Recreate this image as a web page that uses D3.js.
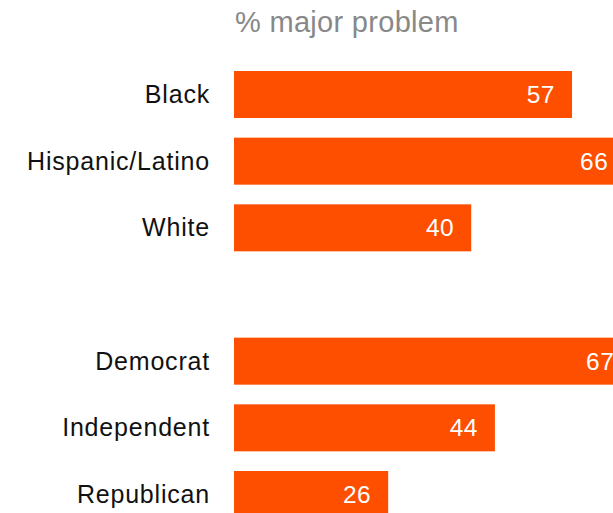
<!DOCTYPE html>
<html>
<head>
<meta charset="utf-8">
<script src="https://cdn.jsdelivr.net/npm/d3@7"></script>
<style>
  html, body { margin: 0; padding: 0; background: #fff; overflow: hidden; }
  svg { display: block; }
  text { font-family: "Liberation Sans", Arial, Helvetica, sans-serif; }
</style>
</head>
<body>
<svg id="chart" width="613" height="513"></svg>
<script>
const categories = ["Black", "Hispanic/Latino", "White", "", "Democrat", "Independent", "Republican"];
const values = [57, 66, 40, null, 67, 44, 26];
const titleText = "% major problem";

const data = categories.map((c, i) => ({ cat: c, key: c || "gap" + i, value: values[i] }));

const svg = d3.select("#chart");

const x = d3.scaleLinear().domain([0, 100]).range([234, 827]);
const y = d3.scaleBand()
  .domain(data.map(d => d.key))
  .range([71, 518])
  .paddingInner(0.295)
  .paddingOuter(0);

svg.append("text")
  .attr("x", 235)
  .attr("y", 32)
  .attr("fill", "#888888")
  .attr("font-size", 29)
  .attr("letter-spacing", 0.3)
  .text(titleText);

const rows = data.filter(d => d.value != null);

svg.selectAll("rect.bar")
  .data(rows)
  .join("rect")
  .attr("class", "bar")
  .attr("x", x(0))
  .attr("y", d => y(d.key))
  .attr("width", d => x(d.value) - x(0))
  .attr("height", y.bandwidth())
  .attr("fill", "#fe4e00");

svg.selectAll("text.val")
  .data(rows)
  .join("text")
  .attr("class", "val")
  .attr("x", d => x(d.value) - 17)
  .attr("y", d => y(d.key) + y.bandwidth() / 2 + 8.5)
  .attr("text-anchor", "end")
  .attr("fill", "#ffffff")
  .attr("font-size", 24.5)
  .attr("letter-spacing", 0.5)
  .text(d => d.value);

svg.selectAll("text.cat")
  .data(rows)
  .join("text")
  .attr("class", "cat")
  .attr("x", 210)
  .attr("y", d => y(d.key) + y.bandwidth() / 2 + 8.5)
  .attr("text-anchor", "end")
  .attr("fill", "#111111")
  .attr("font-size", 25)
  .attr("letter-spacing", 0.8)
  .text(d => d.cat);
</script>
</body>
</html>
